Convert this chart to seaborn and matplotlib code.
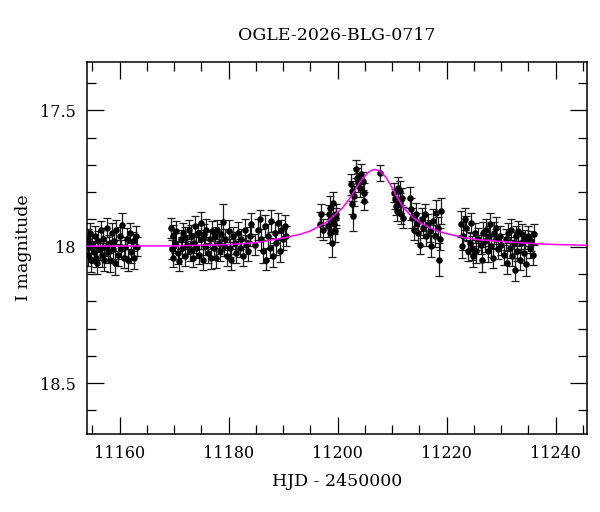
import numpy as np
import pandas as pd
import matplotlib
matplotlib.use("Agg")
import matplotlib.pyplot as plt
from matplotlib.ticker import MultipleLocator, FuncFormatter
import seaborn as sns

# photometry (HJD - 2450000, I mag, error)
hjd_a = [11154.1, 11154.1, 11154.3, 11154.6, 11154.7, 11155.0, 11155.2, 11155.5, 11155.6, 11155.9,
         11156.1, 11156.3, 11156.5, 11156.8, 11157.0, 11157.1, 11157.4, 11157.6, 11157.9, 11158.1,
         11158.2, 11158.5, 11158.8, 11159.0, 11159.1, 11159.4, 11159.7, 11160.0, 11160.2, 11160.5,
         11160.8, 11161.0, 11161.3, 11161.6, 11161.9, 11162.1, 11162.4, 11162.7, 11162.9, 11163.1]
mag_a = [17.97, 18.03, 18.00, 17.95, 18.05, 17.99, 18.02, 17.96, 18.04, 18.06,
         17.98, 18.01, 17.94, 18.03, 17.97, 18.05, 18.00, 17.93, 18.02, 17.99,
         18.05, 17.95, 18.01, 17.98, 18.06, 17.94, 18.03, 17.96, 18.01, 17.92,
         18.04, 18.00, 17.97, 18.05, 17.95, 18.02, 17.98, 18.04, 17.96, 18.00]
err_a = [0.035, 0.040, 0.038, 0.036, 0.042, 0.034, 0.040, 0.037, 0.035, 0.041,
         0.036, 0.039, 0.034, 0.043, 0.037, 0.038, 0.035, 0.036, 0.040, 0.034,
         0.041, 0.038, 0.036, 0.035, 0.044, 0.037, 0.039, 0.034, 0.036, 0.045,
         0.038, 0.035, 0.037, 0.040, 0.036, 0.039, 0.034, 0.042, 0.037, 0.035]

hjd_b = [11169.48, 11169.61, 11169.73, 11169.85, 11170.09, 11170.40, 11170.71, 11170.83, 11171.20, 11171.44,
         11171.62, 11171.93, 11172.05, 11172.42, 11172.66, 11172.85, 11173.15, 11173.46, 11173.64, 11173.89,
         11174.07, 11174.38, 11174.62, 11174.87, 11174.99, 11175.29, 11175.48, 11175.72, 11175.91, 11176.21,
         11176.52, 11176.70, 11176.95, 11177.31, 11177.56, 11177.74, 11177.92, 11178.17, 11178.35, 11178.66,
         11178.96, 11179.15, 11179.39, 11179.76, 11180.00, 11180.25, 11180.49, 11180.80, 11181.10, 11181.41,
         11181.72, 11182.02, 11182.33, 11182.63, 11182.94, 11183.24, 11183.55, 11183.86, 11184.16, 11184.77,
         11185.39, 11185.69, 11186.00, 11186.30, 11186.61, 11186.91, 11187.22, 11187.53, 11187.83, 11188.14,
         11188.44, 11188.75, 11189.06, 11189.36, 11189.67, 11189.97, 11190.28, 11190.58]
mag_b = [17.931, 18.010, 17.961, 18.041, 17.986, 17.943, 18.022, 18.053, 17.973, 18.004,
         17.949, 18.035, 17.967, 17.992, 17.937, 18.016, 17.961, 18.041, 17.986, 17.925,
         18.004, 17.949, 18.029, 17.912, 17.973, 18.047, 17.955, 17.998, 17.937, 18.022,
         17.973, 18.041, 17.943, 18.004, 17.961, 18.041, 17.937, 17.986, 18.016, 17.955,
         17.909, 17.998, 17.973, 18.035, 17.943, 18.004, 18.047, 17.961, 17.986, 18.022,
         17.949, 18.004, 17.973, 18.035, 17.937, 17.992, 18.016, 17.961, 17.918, 17.992,
         17.937, 17.900, 17.973, 18.016, 17.925, 18.047, 17.961, 18.004, 17.906, 18.035,
         17.949, 17.986, 17.912, 18.016, 17.937, 17.973, 17.925, 17.961]
err_b = [0.036, 0.034, 0.040, 0.035, 0.038, 0.037, 0.041, 0.036, 0.034, 0.039,
         0.035, 0.037, 0.040, 0.036, 0.034, 0.038, 0.041, 0.035, 0.037, 0.036,
         0.039, 0.034, 0.036, 0.040, 0.035, 0.038, 0.037, 0.034, 0.039, 0.036,
         0.035, 0.040, 0.037, 0.036, 0.034, 0.038, 0.035, 0.039, 0.036, 0.037,
         0.066, 0.035, 0.038, 0.036, 0.040, 0.034, 0.037, 0.035, 0.039, 0.036,
         0.038, 0.034, 0.037, 0.035, 0.040, 0.036, 0.038, 0.035, 0.041, 0.037,
         0.039, 0.036, 0.038, 0.042, 0.040, 0.037, 0.043, 0.036, 0.039, 0.041,
         0.038, 0.045, 0.037, 0.040, 0.036, 0.039, 0.041, 0.038]

hjd_c = [11196.70, 11197.00, 11197.31, 11198.22, 11198.41, 11198.53, 11198.65, 11198.84, 11198.96, 11199.14,
         11199.26, 11199.45, 11199.63, 11199.75,
         11202.51, 11202.63, 11202.69, 11202.81, 11202.93, 11203.42, 11203.55, 11203.73, 11204.03, 11204.34,
         11204.65, 11204.77, 11204.83, 11207.70]
mag_c = [17.918, 17.882, 17.937, 17.924, 17.882, 17.949, 17.857, 17.900, 17.986, 17.839,
         17.918, 17.943, 17.882, 17.894,
         17.771, 17.796, 17.845, 17.888, 17.814, 17.716, 17.747, 17.765, 17.784, 17.735,
         17.759, 17.802, 17.833, 17.731]
err_c = [0.045, 0.040, 0.038, 0.042, 0.036, 0.037, 0.043, 0.040, 0.050, 0.038,
         0.036, 0.041, 0.039, 0.037,
         0.038, 0.036, 0.035, 0.055, 0.037, 0.034, 0.036, 0.035, 0.034, 0.037,
         0.033, 0.036, 0.034, 0.030]

hjd_d = [11210.27, 11210.46, 11210.64, 11210.88, 11211.07, 11211.37, 11211.50, 11211.68, 11211.86, 11211.99,
         11213.33, 11213.51, 11213.70, 11213.94, 11214.31, 11214.55, 11214.80, 11215.17, 11215.41, 11215.66,
         11215.96, 11216.27, 11216.57, 11216.88, 11217.18, 11217.49, 11217.80, 11218.10, 11218.35, 11218.59,
         11218.85, 11218.95]
mag_d = [17.802, 17.826, 17.851, 17.869, 17.784, 17.796, 17.839, 17.882, 17.820, 17.894,
         17.820, 17.863, 17.894, 17.937, 17.882, 17.912, 17.949, 17.992, 17.900, 17.930,
         17.882, 17.961, 17.918, 17.943, 17.998, 17.906, 17.961, 17.875, 17.930, 18.047,
         17.972, 17.870]
err_d = [0.035, 0.037, 0.034, 0.036, 0.038, 0.035, 0.037, 0.036, 0.034, 0.038,
         0.037, 0.040, 0.036, 0.038, 0.041, 0.037, 0.039, 0.036, 0.042, 0.038,
         0.040, 0.037, 0.039, 0.041, 0.038, 0.043, 0.040, 0.045, 0.039, 0.060,
         0.041, 0.048]

hjd_e = [11222.69, 11222.81, 11222.99, 11223.30, 11223.61, 11223.91, 11224.22, 11224.53, 11224.71, 11224.83,
         11225.14, 11225.44, 11225.75, 11226.36, 11226.54, 11226.67, 11226.97, 11227.28, 11227.58, 11227.77,
         11228.01, 11228.19, 11228.50, 11228.62, 11228.99, 11229.11, 11229.42, 11229.72, 11230.03, 11230.46,
         11230.82, 11231.07, 11231.31, 11231.56, 11231.86, 11232.05, 11232.29, 11232.48, 11232.66, 11232.90,
         11233.15, 11233.39, 11233.64, 11233.88, 11234.13, 11234.37, 11234.62, 11234.92, 11235.23, 11235.53,
         11235.84, 11235.96]
mag_e = [17.918, 17.998, 17.961, 17.900, 17.931, 18.016, 17.986, 17.912, 18.004, 18.035,
         17.949, 18.016, 17.973, 17.992, 18.047, 17.949, 17.980, 17.937, 18.016, 17.961,
         17.918, 17.998, 18.041, 17.949, 17.973, 17.931, 18.010, 17.961, 17.992, 18.029,
         17.973, 18.059, 17.949, 18.004, 17.937, 18.035, 17.986, 18.084, 17.961, 18.016,
         17.943, 18.047, 17.986, 17.955, 18.022, 17.973, 18.065, 17.961, 18.004, 17.980,
         18.029, 17.955]
err_e = [0.048, 0.042, 0.050, 0.040, 0.045, 0.038, 0.041, 0.036, 0.044, 0.039,
         0.037, 0.042, 0.040, 0.036, 0.045, 0.038, 0.041, 0.037, 0.039, 0.036,
         0.040, 0.038, 0.036, 0.041, 0.037, 0.039, 0.036, 0.038, 0.040, 0.037,
         0.039, 0.042, 0.036, 0.038, 0.040, 0.037, 0.039, 0.041, 0.036, 0.038,
         0.037, 0.040, 0.036, 0.039, 0.038, 0.036, 0.041, 0.037, 0.039, 0.036,
         0.038, 0.037]

# model curve, sampled by eye along the magenta line
model_hjd = [11154.0, 11170.0, 11180.0, 11185.0, 11190.0, 11193.0, 11194.9, 11197.9, 11200.9, 11202.5,
             11204.0, 11205.5, 11206.2, 11206.8, 11207.4, 11208.0, 11208.9, 11210.0, 11210.8, 11212.0,
             11213.2, 11214.7, 11216.3, 11218.3, 11220.5, 11222.9, 11226.0, 11229.1, 11235.2, 11240.0,
             11246.0]
model_mag = [17.998, 17.997, 17.992, 17.985, 17.968, 17.955, 17.943, 17.911, 17.857, 17.815,
             17.765, 17.730, 17.720, 17.717, 17.720, 17.728, 17.747, 17.785, 17.815, 17.855,
             17.882, 17.907, 17.925, 17.943, 17.955, 17.966, 17.975, 17.980, 17.988, 17.992,
             17.995]

phot = pd.DataFrame({
    "hjd": hjd_a + hjd_b + hjd_c + hjd_d + hjd_e,
    "mag": mag_a + mag_b + mag_c + mag_d + mag_e,
    "err": err_a + err_b + err_c + err_d + err_e,
})
model = pd.DataFrame({"hjd": model_hjd, "mag": model_mag})

sns.set_theme(style="ticks")
plt.rcParams["font.family"] = ["DejaVu Serif"]
plt.rcParams["text.color"] = "black"
plt.rcParams["axes.labelcolor"] = "black"

fig = plt.figure(figsize=(6, 5.12), dpi=100)
ax = fig.add_axes([0.145, 0.152, 0.833, 0.727])

ax.errorbar(phot["hjd"], phot["mag"], yerr=phot["err"], fmt="none",
            ecolor="#1a1a1a", elinewidth=0.9, capsize=3, capthick=0.9, zorder=2)
sns.scatterplot(data=phot, x="hjd", y="mag", ax=ax, color="black", s=22,
                edgecolor="black", linewidth=0, zorder=3)
sns.lineplot(data=model, x="hjd", y="mag", ax=ax, color="#ff00ff", linewidth=1.1,
             sort=False, zorder=4)

ax.set_xlim(11154.0, 11245.7)
ax.set_ylim(18.687, 17.323)

ax.xaxis.set_major_locator(MultipleLocator(20))
ax.xaxis.set_minor_locator(MultipleLocator(5))
ax.yaxis.set_major_locator(MultipleLocator(0.5))
ax.yaxis.set_minor_locator(MultipleLocator(0.1))
ax.yaxis.set_major_formatter(FuncFormatter(lambda v, p: f"{v:g}"))
ax.xaxis.set_major_formatter(FuncFormatter(lambda v, p: f"{v:.0f}"))

ax.tick_params(which="both", direction="in", top=True, right=True, colors="black",
               labelcolor="black", labelsize=11.5, width=0.9)
ax.tick_params(which="major", length=12, pad=8)
ax.tick_params(which="minor", length=6.5)
for sp in ax.spines.values():
    sp.set_linewidth(1.1)
    sp.set_color("black")

ax.set_xlabel("HJD - 2450000", fontsize=12.5, labelpad=8, color="black")
ax.set_ylabel("I magnitude", fontsize=12.5, labelpad=6, color="black")
ax.set_title("OGLE-2026-BLG-0717", fontsize=12.5, pad=16, color="black")

fig.savefig("out.png", dpi=100)
